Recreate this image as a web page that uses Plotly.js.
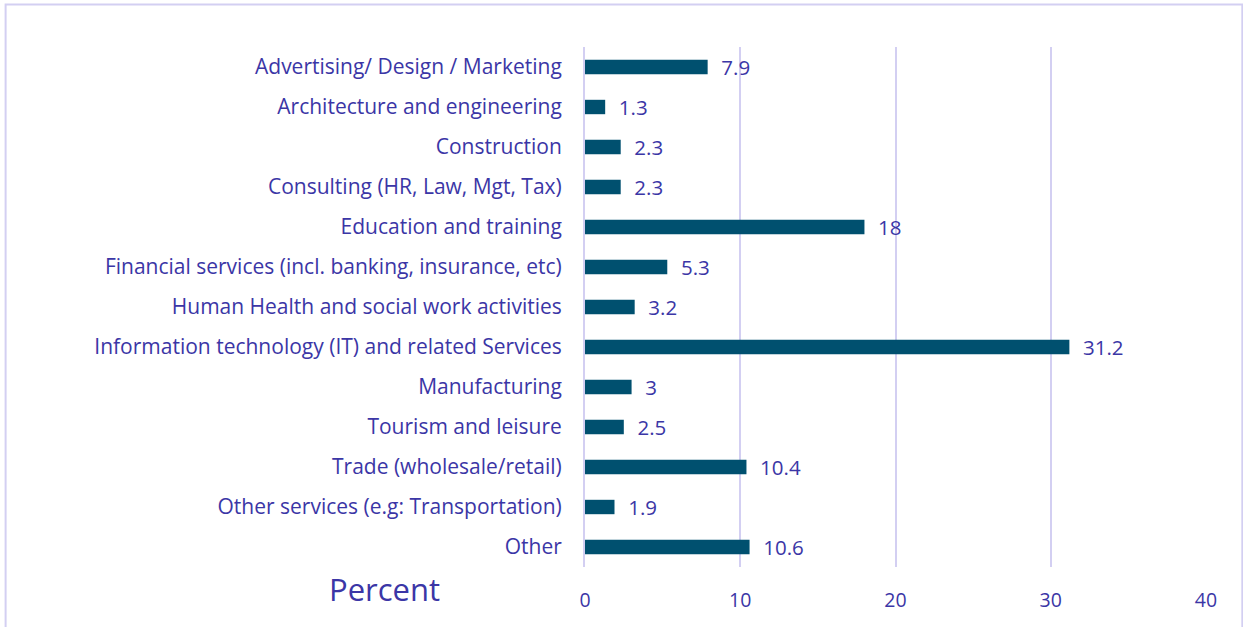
<!DOCTYPE html>
<html>
<head>
<meta charset="utf-8">
<script src="https://cdn.plot.ly/plotly-3.0.1.min.js"></script>
<style>
html,body{margin:0;padding:0;background:#fff;}
#chart{width:1243px;height:627px;}
</style>
</head>
<body>
<div id="chart"></div>
<script>
const categories = [
  "Advertising/ Design / Marketing",
  "Architecture and engineering",
  "Construction",
  "Consulting (HR, Law, Mgt, Tax)",
  "Education and training",
  "Financial services (incl. banking, insurance, etc)",
  "Human Health and social work activities",
  "Information technology (IT) and related Services",
  "Manufacturing",
  "Tourism and leisure",
  "Trade (wholesale/retail)",
  "Other services (e.g: Transportation)",
  "Other"
];
const percentValues = [7.9, 1.3, 2.3, 2.3, 18, 5.3, 3.2, 31.2, 3, 2.5, 10.4, 1.9, 10.6];
const xTickValues = [0, 10, 20, 30, 40];
const axisTitle = "Percent";

const textColor = "#3B36A6";
const gridColor = "#D3CFF2";
const fontFamily = "'Open Sans', 'Noto Sans', sans-serif";

const trace = {
  type: "bar",
  orientation: "h",
  y: categories,
  x: percentValues,
  width: 0.36,
  marker: {color: "#00506F"},
  text: percentValues.map(v => "  " + v),
  textposition: "outside",
  constraintext: "none",
  textfont: {family: fontFamily, size: 20.5, color: textColor},
  cliponaxis: false,
  hoverinfo: "skip"
};

const layout = {
  width: 1243,
  height: 627,
  margin: {l: 585, r: 37, t: 47, b: 60},
  paper_bgcolor: "#ffffff",
  plot_bgcolor: "#ffffff",
  showlegend: false,
  font: {family: fontFamily, color: textColor},
  xaxis: {
    range: [0, 40],
    tickvals: xTickValues,
    ticktext: xTickValues.map(String),
    showgrid: true,
    gridcolor: gridColor,
    gridwidth: 2,
    zeroline: false,
    showline: false,
    ticks: "",
    ticklabelstandoff: 19,
    tickfont: {family: fontFamily, size: 19.5, color: textColor},
    fixedrange: true
  },
  yaxis: {
    autorange: "reversed",
    showgrid: false,
    zeroline: false,
    showline: true,
    linecolor: gridColor,
    linewidth: 2,
    ticks: "",
    ticklabelstandoff: 17,
    tickfont: {family: fontFamily, size: 21, color: textColor},
    fixedrange: true
  },
  shapes: [{
    type: "rect", xref: "paper", yref: "paper",
    x0: -0.933, x1: 1.0585, y0: -0.3, y1: 1.0815,
    line: {color: gridColor, width: 2},
    fillcolor: "rgba(0,0,0,0)",
    layer: "below"
  }],
  annotations: [{
    xref: "paper", yref: "paper",
    x: -0.3225, y: 0.002,
    xanchor: "center", yanchor: "top",
    text: axisTitle,
    showarrow: false,
    font: {family: fontFamily, size: 31, color: textColor}
  }]
};

Plotly.newPlot("chart", [trace], layout, {displayModeBar: false, staticPlot: true});
</script>
</body>
</html>
